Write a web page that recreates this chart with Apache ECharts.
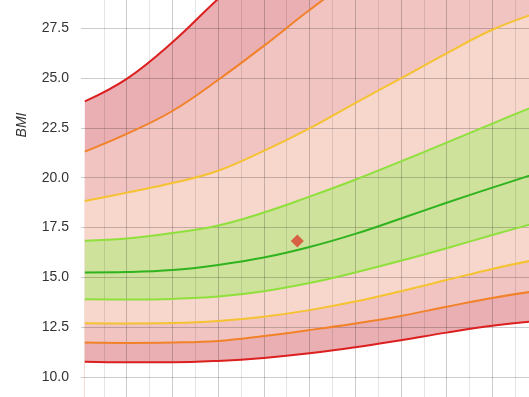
<!DOCTYPE html>
<html>
<head>
<meta charset="utf-8">
<script src="https://cdn.jsdelivr.net/npm/echarts@6/dist/echarts.min.js"></script>
<style>html,body{margin:0;padding:0;background:#fff}#c{width:529px;height:397px}</style>
</head>
<body>
<div id="c"></div>
<script>
// Age in months
var months = [61, 72, 84, 96, 108, 120, 132, 144, 156, 168, 180];
// Reference curves (BMI)
var sdNeg3 = [10.76, 10.73, 10.73, 10.80, 10.95, 11.18, 11.48, 11.84, 12.22, 12.56, 12.81];
var sdNeg2 = [11.72, 11.70, 11.72, 11.80, 12.05, 12.35, 12.68, 13.06, 13.52, 13.96, 14.32];
var sdNeg1 = [12.69, 12.68, 12.70, 12.80, 13.02, 13.35, 13.78, 14.30, 14.86, 15.42, 15.90];
var sdNeg05 = [13.89, 13.88, 13.91, 14.03, 14.30, 14.71, 15.24, 15.83, 16.46, 17.12, 17.76];
var median = [15.24, 15.26, 15.36, 15.62, 15.99, 16.52, 17.18, 17.95, 18.74, 19.50, 20.24];
var sdPos05 = [16.84, 16.95, 17.22, 17.60, 18.25, 19.05, 19.90, 20.82, 21.76, 22.72, 23.66];
var sdPos1 = [18.83, 19.25, 19.73, 20.35, 21.35, 22.48, 23.75, 24.99, 26.25, 27.43, 28.30];
var sdPos2 = [21.31, 22.20, 23.35, 24.91, 26.62, 28.42, 30.10, 31.60, 32.90, 34.00, 34.90];
var sdPos3 = [23.83, 24.96, 26.80, 28.98, 31.00, 32.80, 34.40, 35.80, 37.00, 38.00, 38.90];
// Patient measurement
var patientAge = [116.8];
var patientBmi = [16.82];
// Y tick labels
var yTicks = [7.5, 10, 12.5, 15, 17.5, 20, 22.5, 25, 27.5, 30];

var curves = [sdNeg3, sdNeg2, sdNeg1, sdNeg05, median, sdPos05, sdPos1, sdPos2, sdPos3];
var lineColors = ['#dc1f1f', '#f2822a', '#f5c232', '#8fe03c', '#2fb31e', '#8fe03c', '#f5c232', '#f2822a', '#dc1f1f'];
// fill below each curve (painted from top curve downwards)
var fillOrder = [8, 7, 6, 5, 3, 2, 1, 0];
var fillColors = ['#e9afb2', '#f1c4c2', '#f7d6cc', '#cfe29c', '#f7d6cc', '#f1c4c2', '#e9afb2', '#ffffff'];
var SMOOTH = 0.4;

function pairs(arr) { return months.map(function (m, i) { return [m, arr[i]]; }); }

var series = [];
fillOrder.forEach(function (ci, k) {
  series.push({
    type: 'line', data: pairs(curves[ci]), symbol: 'none', smooth: SMOOTH, silent: true,
    z: 1 + k * 0.01,
    lineStyle: { opacity: 0, width: 0 },
    areaStyle: { color: fillColors[k], opacity: 1, origin: 'start' }
  });
});
curves.forEach(function (c, i) {
  series.push({
    type: 'line', data: pairs(c), symbol: 'none', smooth: SMOOTH, z: 4,
    lineStyle: { color: lineColors[i], width: 2 }
  });
});
series.push({
  type: 'scatter', z: 5, symbol: 'diamond', symbolSize: 13,
  itemStyle: { color: '#d8412c' },
  data: patientAge.map(function (a, i) { return [a, patientBmi[i]]; })
});

var chart = echarts.init(document.getElementById('c'), null, { renderer: 'canvas' });
chart.setOption({
  animation: false,
  backgroundColor: '#fff',
  grid: { left: 81, right: -9, top: -21.4, bottom: -29.6, containLabel: false, outerBoundsMode: 'none' },
  xAxis: {
    type: 'value', min: 60, max: 180, interval: 12, z: 3,
    axisLine: { show: false }, axisTick: { show: false }, axisLabel: { show: false },
    splitLine: { show: true, showMinLine: false, lineStyle: { color: 'rgba(0,0,0,0.2)', width: 1 } },
    minorTick: { show: false, splitNumber: 2 },
    minorSplitLine: { show: true, lineStyle: { color: 'rgba(0,0,0,0.1)', width: 1 } }
  },
  yAxis: {
    type: 'value', min: yTicks[0], max: yTicks[yTicks.length - 1], interval: 2.5, z: 3,
    axisLine: { show: false }, axisTick: { show: false },
    axisLabel: {
      margin: 12, color: '#333', fontSize: 14, fontFamily: 'Liberation Sans, Arial, sans-serif',
      formatter: function (v) { return v.toFixed(1); }
    },
    splitLine: { show: true, lineStyle: { color: 'rgba(0,0,0,0.2)', width: 1 } }
  },
  graphic: [{
    type: 'text', x: 22, y: 125, rotation: Math.PI / 2,
    style: {
      text: 'BMI', fill: '#333', fontSize: 14, fontStyle: 'italic',
      fontFamily: 'Liberation Sans, Arial, sans-serif', align: 'center', verticalAlign: 'middle'
    }
  }],
  series: series
});
</script>
</body>
</html>
